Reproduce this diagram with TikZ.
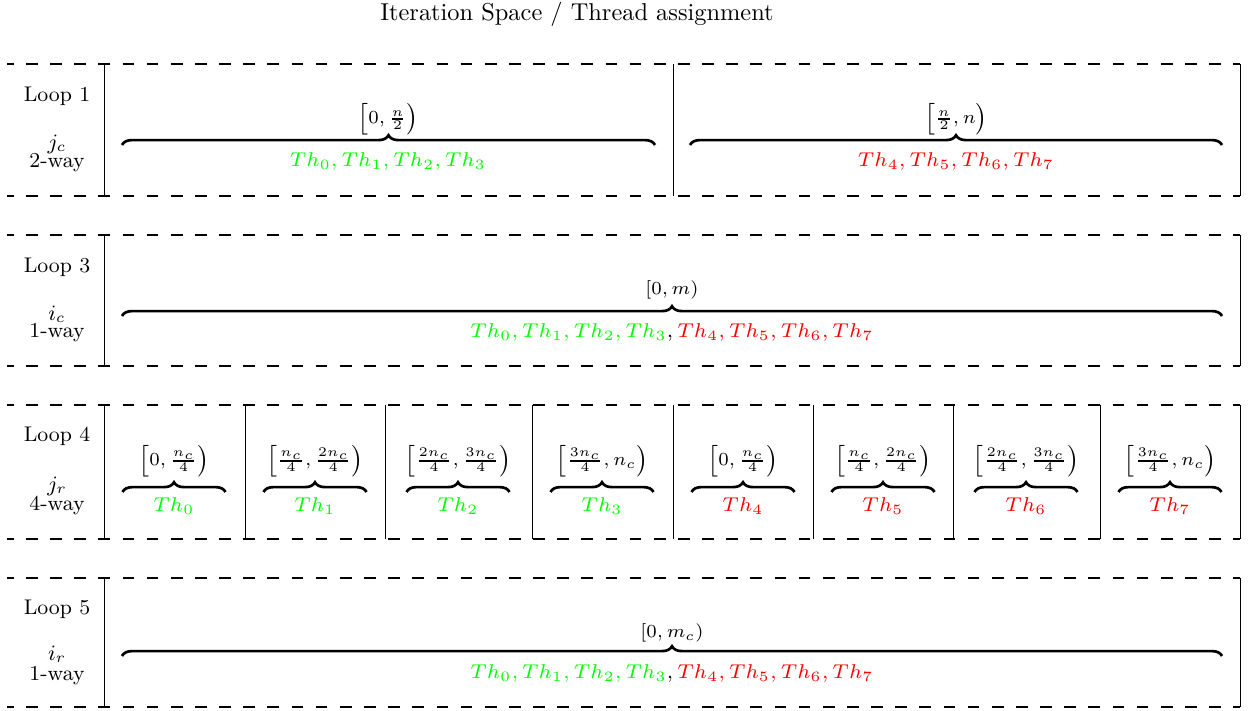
\documentclass[tikz,border=0pt]{standalone}
\usetikzlibrary{decorations.pathreplacing}
\begin{document}
\begin{tikzpicture}[x=0.41pt,y=-0.41pt,
  sep/.style={dash pattern=on 4.8pt off 5.1pt, dash phase=2.1pt, line width=0.45pt},
  wall/.style={line width=0.4pt},
  brc/.style={decorate, decoration={brace, amplitude=4pt}, line width=1.1pt},
  lbl/.style={inner sep=0pt, font=\fontsize{8.7}{10}\selectfont},
  rng/.style={inner sep=0pt, scale=1.08, font=\scriptsize},
  thr/.style={inner sep=0pt, scale=1.17, font=\scriptsize},
  ttl/.style={inner sep=0pt, font=\normalsize}]
\useasboundingbox (0,0) rectangle (1251,711);

\node[ttl] (title) at (577,14) {Iteration Space / Thread assignment};

% ---------- Loop 1 ----------
\coordinate (r1tl) at (7,64);    \coordinate (r1tr) at (1240,64);
\coordinate (r1bl) at (7,196);   \coordinate (r1br) at (1240,196);
\draw[sep] (r1tl) -- (r1tr);
\draw[sep] (r1bl) -- (r1br);
\foreach \x [count=\i] in {104,673,1240}{
  \coordinate (r1v\i t) at (\x,64); \coordinate (r1v\i b) at (\x,196);
  \draw[wall] (r1v\i t) -- (r1v\i b);}
\node[lbl] (loop1) at (57,96) {Loop 1};
\node[lbl] (var1) at (57,144) {$j_c$};
\node[lbl] (way1) at (57,163) {2-way};
\coordinate (b1a) at (122,145); \coordinate (b1b) at (655,145);
\coordinate (b1c) at (690,145); \coordinate (b1d) at (1222,145);
\draw[brc] (b1a) -- (b1b);
\draw[brc] (b1c) -- (b1d);
\node[rng] (rg1a) at (388,119) {$\left[0,\frac{n}{2}\right)$};
\node[rng] (rg1b) at (956,119) {$\left[\frac{n}{2},n\right)$};
\node[thr,text=green] (th1a) at (388,162) {$Th_0, Th_1, Th_2, Th_3$};
\node[thr,text=red] (th1b) at (956,162) {$Th_4, Th_5, Th_6, Th_7$};

% ---------- Loop 3 ----------
\coordinate (r2tl) at (7,235);   \coordinate (r2tr) at (1240,235);
\coordinate (r2bl) at (7,366);   \coordinate (r2br) at (1240,366);
\draw[sep] (r2tl) -- (r2tr);
\draw[sep] (r2bl) -- (r2br);
\foreach \x [count=\i] in {104,1240}{
  \coordinate (r2v\i t) at (\x,235); \coordinate (r2v\i b) at (\x,366);
  \draw[wall] (r2v\i t) -- (r2v\i b);}
\node[lbl] (loop3) at (57,267) {Loop 3};
\node[lbl] (var3) at (57,314) {$i_c$};
\node[lbl] (way3) at (57,333) {1-way};
\coordinate (b2a) at (122,316); \coordinate (b2b) at (1222,316);
\draw[brc] (b2a) -- (b2b);
\node[rng] (rg2) at (672,290) {$\left[0,m\right)$};
\node[thr] (th2) at (672,333)
  {$\textcolor{green}{Th_0, Th_1, Th_2, Th_3},\textcolor{red}{Th_4, Th_5, Th_6, Th_7}$};

% ---------- Loop 4 ----------
\coordinate (r3tl) at (7,405);   \coordinate (r3tr) at (1240,405);
\coordinate (r3bl) at (7,539);   \coordinate (r3br) at (1240,539);
\draw[sep] (r3tl) -- (r3tr);
\draw[sep] (r3bl) -- (r3br);
\foreach \x [count=\i] in {104,245,385,532,673,813,953,1100,1240}{
  \coordinate (r3v\i t) at (\x,405); \coordinate (r3v\i b) at (\x,539);
  \draw[wall] (r3v\i t) -- (r3v\i b);}
\node[lbl] (loop4) at (57,436) {Loop 4};
\node[lbl] (var4) at (57,486) {$j_r$};
\node[lbl] (way4) at (57,505) {4-way};
\foreach \c/\r/\t/\col [count=\i] in {
  174/{\left[0,\frac{n_c}{4}\right)}/{Th_0}/green,
  315/{\left[\frac{n_c}{4},\frac{2n_c}{4}\right)}/{Th_1}/green,
  458/{\left[\frac{2n_c}{4},\frac{3n_c}{4}\right)}/{Th_2}/green,
  602/{\left[\frac{3n_c}{4},n_c\right)}/{Th_3}/green,
  743/{\left[0,\frac{n_c}{4}\right)}/{Th_4}/red,
  883/{\left[\frac{n_c}{4},\frac{2n_c}{4}\right)}/{Th_5}/red,
  1026/{\left[\frac{2n_c}{4},\frac{3n_c}{4}\right)}/{Th_6}/red,
  1170/{\left[\frac{3n_c}{4},n_c\right)}/{Th_7}/red}{
  \coordinate (b3\i a) at (\c-51.5,492); \coordinate (b3\i b) at (\c+51.5,492);
  \draw[brc] (b3\i a) -- (b3\i b);
  \node[rng] (rg3\i) at (\c,461) {$\r$};
  \node[thr,text=\col] (th3\i) at (\c,506) {$\t$};
}

% ---------- Loop 5 ----------
\coordinate (r4tl) at (7,578);   \coordinate (r4tr) at (1240,578);
\coordinate (r4bl) at (7,707);   \coordinate (r4br) at (1240,707);
\draw[sep] (r4tl) -- (r4tr);
\draw[sep] (r4bl) -- (r4br);
\foreach \x [count=\i] in {104,1240}{
  \coordinate (r4v\i t) at (\x,578); \coordinate (r4v\i b) at (\x,707);
  \draw[wall] (r4v\i t) -- (r4v\i b);}
\node[lbl] (loop5) at (57,609) {Loop 5};
\node[lbl] (var5) at (57,654) {$i_r$};
\node[lbl] (way5) at (57,676) {1-way};
\coordinate (b4a) at (122,656); \coordinate (b4b) at (1222,656);
\draw[brc] (b4a) -- (b4b);
\node[rng] (rg4) at (672,633) {$\left[0,m_c\right)$};
\node[thr] (th4) at (672,674)
  {$\textcolor{green}{Th_0, Th_1, Th_2, Th_3},\textcolor{red}{Th_4, Th_5, Th_6, Th_7}$};
\end{tikzpicture}
\end{document}
